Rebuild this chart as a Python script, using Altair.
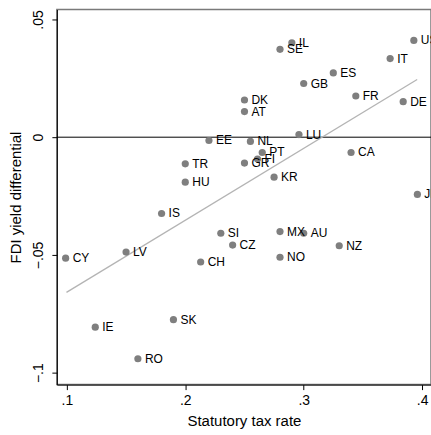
import altair as alt
import pandas as pd

countries = ["IL", "SE", "US", "IT", "ES", "GB", "FR", "DE", "DK", "AT", "LU", "EE",
             "NL", "PT", "FI", "GR", "CA", "TR", "HU", "KR", "JP", "IS", "SI", "CZ",
             "CH", "LV", "CY", "MX", "AU", "NZ", "NO", "SK", "IE", "RO"]
tax_rate = [0.290, 0.280, 0.393, 0.373, 0.325, 0.300, 0.344, 0.384, 0.250, 0.250,
            0.296, 0.220, 0.255, 0.265, 0.261, 0.250, 0.340, 0.200, 0.200, 0.275,
            0.396, 0.180, 0.230, 0.240, 0.213, 0.150, 0.099, 0.280, 0.300, 0.330,
            0.280, 0.190, 0.124, 0.160]
yield_diff = [0.0401, 0.0373, 0.0411, 0.0334, 0.0273, 0.0228, 0.0175, 0.0151, 0.0158,
              0.0109, 0.0011, -0.0014, -0.0018, -0.0065, -0.0093, -0.0110, -0.0065,
              -0.0113, -0.0191, -0.0170, -0.0243, -0.0324, -0.0408, -0.0458, -0.0530,
              -0.0488, -0.0514, -0.0401, -0.0408, -0.0461, -0.0510, -0.0775, -0.0807,
              -0.0941]

fit_x = [0.0997, 0.3958]
fit_y = [-0.0659, 0.0245]

x_ticks = [0.1, 0.2, 0.3, 0.4]
y_ticks = [-0.1, -0.05, 0.0, 0.05]

df = pd.DataFrame({"country": countries, "tax": tax_rate, "fdi": yield_diff})
fit_df = pd.DataFrame({"tax": fit_x, "fdi": fit_y})
zero_df = pd.DataFrame({"fdi": [0.0]})

FONT = "Liberation Sans"

xscale = alt.Scale(domain=[0.09158, 0.40750], nice=False, zero=False)
yscale = alt.Scale(domain=[-0.10508, 0.05424], nice=False, zero=False)

xaxis = alt.Axis(values=x_ticks, grid=False, title="Statutory tax rate",
                 labelExpr="replace(format(datum.value, '.1f'), '0.', '.')",
                 labelFont=FONT, labelFontSize=14, labelColor="black",
                 titleFont=FONT, titleFontSize=15, titleFontWeight="normal",
                 titleColor="black", tickColor="black", domainColor="black",
                 tickSize=5, labelPadding=4, titlePadding=6, labelFlush=False)
yaxis = alt.Axis(values=y_ticks, grid=False, title="FDI yield differential",
                 labelExpr="replace(format(datum.value, '.2~f'), '0.', '.')",
                 labelAngle=270, labelAlign="center", labelBaseline="bottom",
                 labelFont=FONT, labelFontSize=14, labelColor="black",
                 titleFont=FONT, titleFontSize=15, titleFontWeight="normal",
                 titleColor="black", tickColor="black", domainColor="black",
                 tickSize=5, labelPadding=6, titlePadding=8, labelFlush=False)

base = alt.Chart(df)

zero = alt.Chart(zero_df).mark_rule(color="black", strokeWidth=1).encode(
    y=alt.Y("fdi:Q", scale=yscale, axis=yaxis)
)

fit = alt.Chart(fit_df).mark_line(color="#b4b4b4", strokeWidth=1.3).encode(
    x=alt.X("tax:Q", scale=xscale, axis=xaxis),
    y=alt.Y("fdi:Q", scale=yscale, axis=yaxis),
)

points = base.mark_circle(size=52, color="#7f7f7f", opacity=1, clip=True).encode(
    x=alt.X("tax:Q", scale=xscale, axis=xaxis),
    y=alt.Y("fdi:Q", scale=yscale, axis=yaxis),
)

labels = base.mark_text(align="left", baseline="middle", dx=7, font=FONT,
                        fontSize=12, color="black", clip=True).encode(
    x=alt.X("tax:Q", scale=xscale),
    y=alt.Y("fdi:Q", scale=yscale),
    text="country:N",
)

chart = alt.layer(zero, fit, points, labels).properties(
    width=375, height=376,
    autosize=alt.AutoSizeParams(type="none"),
    padding={"left": 57, "top": 9, "right": 0, "bottom": 50},
    background="white",
).configure_view(stroke="#7a7a7a", strokeWidth=1.5)

chart.save("out.html", embed_options={"renderer": "svg", "actions": False})
